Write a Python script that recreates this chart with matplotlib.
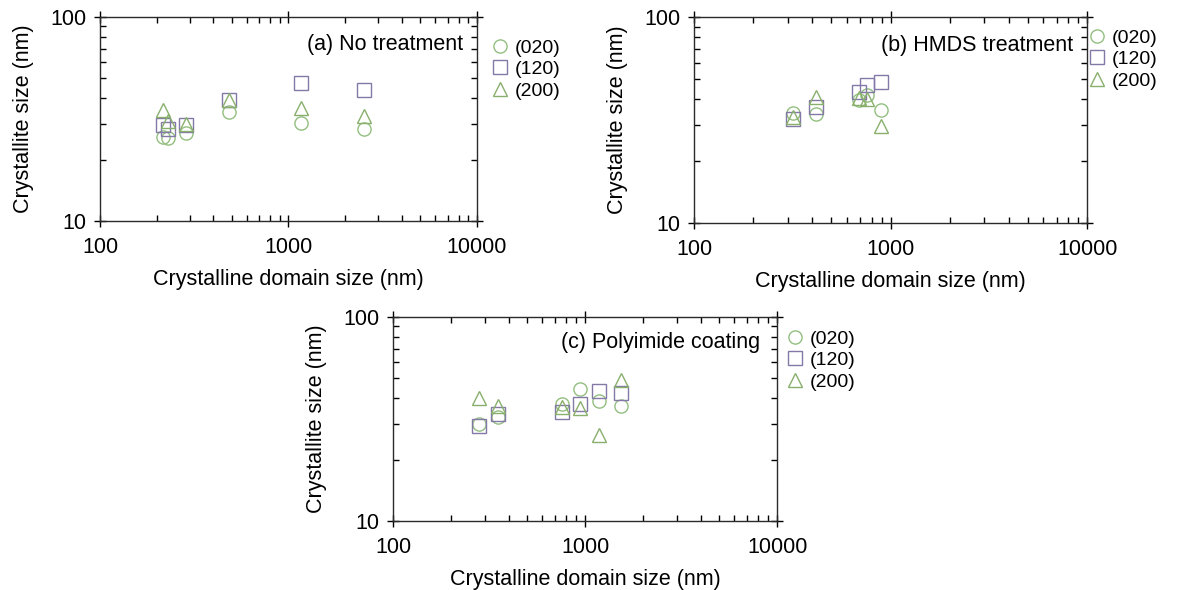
import matplotlib
matplotlib.use("Agg")
import matplotlib.pyplot as plt
from matplotlib.ticker import LogLocator, NullFormatter, FixedLocator, FixedFormatter

plt.rcParams["font.family"] = ["Liberation Sans", "DejaVu Sans"]

# (a) No treatment
a_domain = [216, 230, 285, 486, 1163, 2522]
a_020 = [25.9, 25.4, 26.9, 34.4, 30.3, 28.1]
a_120 = [29.6, 28.1, 29.6, 39.2, 47.4, 44.0]
a_200 = [35.0, 31.0, 30.0, 39.0, 35.7, 32.7]

# (b) HMDS treatment
b_domain = [320, 417, 693, 761, 893]
b_020 = [34.1, 34.0, 39.6, 42.0, 35.3]
b_120 = [31.9, 36.7, 43.4, 46.7, 48.5]
b_200 = [32.9, 41.0, 40.4, 40.0, 29.6]

# (c) Polyimide coating
c_domain = [280, 351, 762, 946, 1178, 1540]
c_020 = [30.0, 32.3, 37.6, 44.4, 38.6, 36.5]
c_120 = [29.1, 33.6, 34.4, 37.6, 43.3, 42.4]
c_200 = [40.2, 36.5, 36.2, 35.8, 26.5, 49.3]

series_labels = ["(020)", "(120)", "(200)"]
markers = ["o", "s", "^"]
colors = ["#93bf80", "#8478a6", "#88b06c"]
titles = ["(a) No treatment", "(b) HMDS treatment", "(c) Polyimide coating"]

fig = plt.figure(figsize=(11.86, 5.9), dpi=100)
rects = [[0.0843, 0.6254, 0.3179, 0.3458],
         [0.5852, 0.6220, 0.3314, 0.3490],
         [0.3314, 0.1169, 0.3238, 0.3458]]
title_pos = [(0.963, 0.863), (0.964, 0.864), (0.956, 0.873)]
legend_pos = [(1.041, 0.892), (1.006, 0.942), (1.027, 0.936)]
panels = [(a_domain, [a_020, a_120, a_200]),
          (b_domain, [b_020, b_120, b_200]),
          (c_domain, [c_020, c_120, c_200])]

for i, (xs, ys_list) in enumerate(panels):
    ax = fig.add_axes(rects[i])
    for ys, m, c, lab in zip(ys_list, markers, colors, series_labels):
        ax.plot(xs, ys, linestyle="none", marker=m, markersize=9.5,
                markerfacecolor="none", markeredgecolor=c, markeredgewidth=1.0,
                label=lab)
    ax.set_xscale("log"); ax.set_yscale("log")
    ax.set_xlim(100, 10000); ax.set_ylim(10, 100)
    ax.xaxis.set_major_locator(FixedLocator([100, 1000, 10000]))
    ax.xaxis.set_major_formatter(FixedFormatter(["100", "1000", "10000"]))
    ax.yaxis.set_major_locator(FixedLocator([10, 100]))
    ax.yaxis.set_major_formatter(FixedFormatter(["10", "100"]))
    ax.xaxis.set_minor_locator(LogLocator(base=10, subs=range(2, 10)))
    ax.yaxis.set_minor_locator(LogLocator(base=10, subs=range(2, 10)))
    ax.xaxis.set_minor_formatter(NullFormatter())
    ax.yaxis.set_minor_formatter(NullFormatter())
    ax.tick_params(which="major", direction="inout", length=9, width=1.0,
                   top=True, right=True, labelsize=15.5)
    ax.tick_params(axis="x", which="major", pad=7)
    ax.tick_params(axis="y", which="major", pad=5)
    ax.tick_params(which="minor", direction="in", length=4, width=1.0,
                   top=True, right=True)
    for s in ax.spines.values():
        s.set_linewidth(1.0); s.set_color("#2a2a2a")
    ax.set_xlabel("Crystalline domain size (nm)", fontsize=15.5, labelpad=8)
    ax.set_ylabel("Crystallite size (nm)", fontsize=15.5, labelpad=12)
    ax.text(*title_pos[i], titles[i], transform=ax.transAxes, ha="right",
            va="center", fontsize=15.5)
    ax.legend(loc="upper left", bbox_to_anchor=legend_pos[i], frameon=False,
              fontsize=14, handlelength=0.8, handletextpad=0.35,
              labelspacing=0.2, borderaxespad=0, borderpad=0)

fig.savefig("out.png", dpi=100)
